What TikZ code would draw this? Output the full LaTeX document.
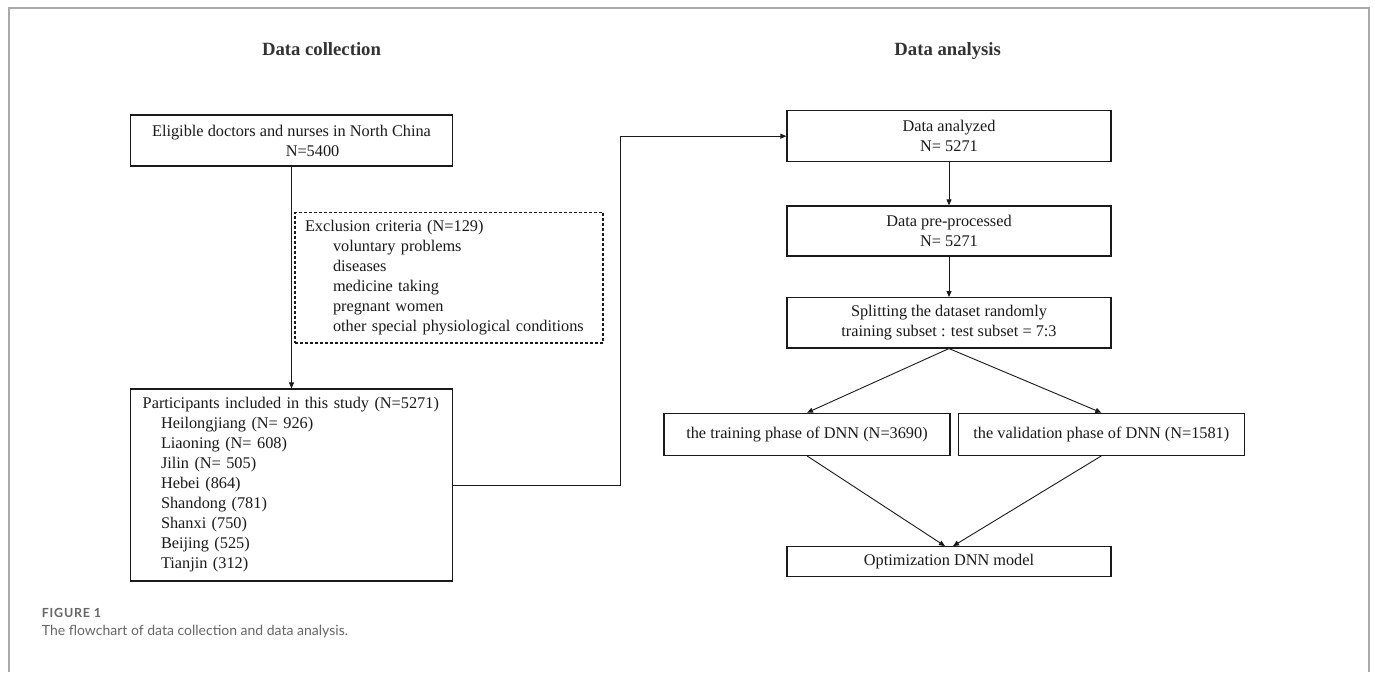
\documentclass[tikz,border=0pt]{standalone}
\usepackage{fontspec}
\setmainfont{Liberation Serif}
\newfontfamily\capfont{Lato}
\newfontfamily\capfontsp{Lato}[LetterSpace=6]
\usetikzlibrary{arrows.meta,calc}
\definecolor{ink}{HTML}{1A1A1A}
\definecolor{titleink}{HTML}{333333}
\definecolor{framegray}{HTML}{AAAAAA}
\definecolor{capgray}{HTML}{666666}
\begin{document}
\begin{tikzpicture}[x=1pt,y=-1pt,
  box/.style={draw=ink, line width=1.2pt, inner sep=0pt, text=ink,
    font=\fontsize{16.3}{20}\selectfont, align=center},
  conn/.style={draw=ink, line width=0.9pt},
  arr/.style={conn, -{Triangle[length=6pt,width=5pt]}},
  title/.style={anchor=base, text=titleink, font=\fontsize{18.7}{22}\selectfont\bfseries},
]
\useasboundingbox (0,0) rectangle (1375,672);
\fill[white] (0,0) rectangle (1375,672);
\draw[framegray, line width=1.5pt] (9,672) -- (9,8) -- (1369,8) -- (1369,672);

% titles
\node[title] (t1) at (321.5,55.7) {Data collection};
\node[title] (t2) at (947.7,55.7) {Data analysis};

% left column
\node[box, minimum width=321.6pt, minimum height=51pt, align=left] (b1) at (291.5,140.5)
  {Eligible doctors and nurses in North China\\\hspace*{133.7pt}N=5400};

\node[box, dash pattern=on 3pt off 2pt, inner xsep=10pt, text width=288pt, align=left,
  minimum height=130.7pt] (ex) at (449,277.7)
  {Exclusion criteria (N=129)\\
   \hspace*{28pt}voluntary problems\\
   \hspace*{28pt}diseases\\
   \hspace*{28pt}medicine taking\\
   \hspace*{28pt}pregnant women\\
   \hspace*{28pt}other special physiological conditions};

\node[box, inner xsep=12pt, text width=298pt, align=left, minimum height=192pt] (b3) at (291.7,485)
  {Participants included in this study (N=5271)\\
   \hspace*{18.3pt}Heilongjiang (N= 926)\\
   \hspace*{18.3pt}Liaoning (N= 608)\\
   \hspace*{18.3pt}Jilin (N= 505)\\
   \hspace*{18.3pt}Hebei (864)\\
   \hspace*{18.3pt}Shandong (781)\\
   \hspace*{18.3pt}Shanxi (750)\\
   \hspace*{18.3pt}Beijing (525)\\
   \hspace*{18.3pt}Tianjin (312)};

% right column
\node[box, minimum width=324pt, minimum height=51pt] (da) at (949,136.2) {Data analyzed\\N= 5271};
\node[box, minimum width=324pt, minimum height=50pt] (dp) at (949,231) {Data pre-processed\\N= 5271};
\node[box, minimum width=324pt, minimum height=50.3pt] (sp) at (949,322.8)
  {Splitting the dataset randomly\\training subset : test subset = 7:3};
\node[box, minimum width=286pt, minimum height=42pt] (tr) at (807,434.3) {the training phase of DNN (N=3690)};
\node[box, minimum width=286.1pt, minimum height=42pt] (va) at (1101.35,434.3) {the validation phase of DNN (N=1581)};
\node[box, minimum width=324pt, minimum height=30pt] (opt) at (949,561.7) {Optimization DNN model};

% connectors
\draw[arr] (b1.south) -- (b1.south |- b3.north);
\draw[arr] (b3.east) -- ++(167.3,0) |- (da.west);
\draw[arr] (da.south) -- (dp.north);
\draw[arr] (dp.south) -- (sp.north);
\draw[arr] (sp.south) -- (tr.north);
\draw[arr] (sp.south) -- (va.north);
\coordinate (o1) at ($(opt.north)+(-4,0)$);
\coordinate (o2) at ($(opt.north)+(4,0)$);
\draw[arr] (tr.south) -- (o1);
\draw[arr] (va.south) -- (o2);

% caption
\node[anchor=base west, inner sep=0pt, text=capgray, font=\capfontsp\bfseries\fontsize{12.5}{14}\selectfont] (fig) at (41.7,617.3) {FIGURE 1};
\node[anchor=base west, inner sep=0pt, text=capgray, font=\capfont\fontsize{14}{17}\selectfont] (cap) at (41.7,635.7) {The flowchart of data collection and data analysis.};
\end{tikzpicture}
\end{document}
